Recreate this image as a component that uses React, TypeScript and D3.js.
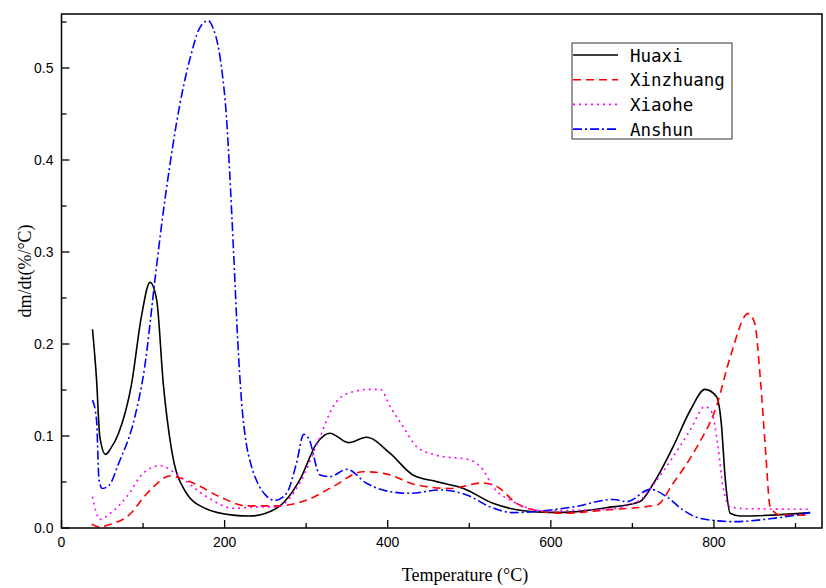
import React from "react";
import * as d3 from "d3";

const seriesNames = ["Huaxi", "Xinzhuang", "Xiaohe", "Anshun"];
const seriesColors = ["#000000", "#ff0000", "#ff00ff", "#0000ff"];
const seriesDash = ["", "8,5", "2,4", "9,3,2,3"];

const huaxiT = [38, 43, 47, 54, 60, 70, 86, 98, 108.5, 116.7, 124.8, 135, 151, 176, 210, 231, 264, 292, 313, 329, 352, 374, 403, 431, 460, 493, 529, 566, 599, 615, 668, 709, 726, 750, 771, 789, 803, 809, 814, 820, 832, 918];
const huaxiV = [0.216, 0.161, 0.099, 0.080, 0.086, 0.103, 0.157, 0.230, 0.267, 0.248, 0.157, 0.085, 0.041, 0.0214, 0.014, 0.013, 0.0217, 0.052, 0.092, 0.103, 0.0928, 0.0986, 0.081, 0.0576, 0.0504, 0.043, 0.0268, 0.0188, 0.017, 0.017, 0.022, 0.0286, 0.0486, 0.0884, 0.128, 0.1507, 0.143, 0.114, 0.052, 0.016, 0.013, 0.0167];

const xinT = [37, 47, 60, 80, 108.5, 133, 162, 194, 227, 264, 301, 333, 370, 395, 436, 476, 517, 534, 558, 591, 615, 668, 730, 750, 779, 803, 820, 842, 850, 857, 863, 869, 881, 918];
const xinV = [0.004, 0.001, 0.004, 0.012, 0.041, 0.0565, 0.0486, 0.034, 0.024, 0.024, 0.0304, 0.045, 0.0612, 0.0594, 0.0467, 0.043, 0.049, 0.045, 0.0268, 0.0177, 0.016, 0.0196, 0.025, 0.0486, 0.088, 0.132, 0.186, 0.233, 0.2225, 0.161, 0.088, 0.023, 0.014, 0.014];

const xiaoT = [38, 47, 60, 80, 100, 121, 145, 178, 211, 243, 264, 292, 317, 333, 350, 378, 391, 403, 419, 436, 460, 501, 517, 529, 554, 591, 668, 709, 722, 750, 771, 789, 797, 805, 811, 820, 840, 918];
const xiaoV = [0.034, 0.0094, 0.016, 0.034, 0.0594, 0.0677, 0.0558, 0.034, 0.0214, 0.023, 0.023, 0.0486, 0.0993, 0.132, 0.146, 0.1507, 0.1507, 0.132, 0.110, 0.088, 0.079, 0.074, 0.063, 0.045, 0.0286, 0.0188, 0.0203, 0.030, 0.043, 0.0775, 0.1065, 0.132, 0.1265, 0.088, 0.045, 0.023, 0.021, 0.0203];

const anT = [38, 43, 46, 50, 58, 70, 90, 102, 115, 125, 133, 141, 150, 159, 168, 174, 180, 186, 192, 197, 202, 206, 211, 216, 221, 226, 232, 240, 250, 262, 276, 288, 297, 303, 317, 329, 350, 374, 403, 427, 464, 497, 525, 554, 591, 628, 677, 693, 722, 742, 762, 783, 824, 873, 918];
const anV = [0.139, 0.117, 0.052, 0.043, 0.046, 0.070, 0.121, 0.175, 0.273, 0.345, 0.395, 0.44, 0.482, 0.515, 0.541, 0.549, 0.5514, 0.543, 0.524, 0.495, 0.45, 0.39, 0.30, 0.205, 0.135, 0.095, 0.07, 0.05, 0.036, 0.030, 0.0377, 0.070, 0.1018, 0.0975, 0.0576, 0.0558, 0.0638, 0.0486, 0.0395, 0.0377, 0.0413, 0.0359, 0.0232, 0.0167, 0.0188, 0.023, 0.031, 0.0286, 0.042, 0.034, 0.0196, 0.0105, 0.0069, 0.0105, 0.0167];

const seriesT = [huaxiT, xinT, xiaoT, anT];
const seriesV = [huaxiV, xinV, xiaoV, anV];

const xMajor = [0, 200, 400, 600, 800];
const xMinor = [100, 300, 500, 700, 900];
const yMajor = [0, 0.1, 0.2, 0.3, 0.4, 0.5];
const yMinor = [0.05, 0.15, 0.25, 0.35, 0.45, 0.55];

const W = 826;
const H = 588;
const L = 61.5;
const R = 822;
const T = 14;
const B = 528;

export default function App() {
  const x = d3.scaleLinear().domain([0, 932.5]).range([L, R]);
  const y = d3.scaleLinear().domain([0, 0.5587]).range([B, T]);
  const line = d3
    .line<[number, number]>()
    .x((d) => x(d[0]))
    .y((d) => y(d[1]))
    .curve(d3.curveMonotoneX);

  return (
    <svg width={W} height={H} style={{ position: "absolute", left: 0, top: 0, background: "#fff" }}>
      <rect x={0} y={0} width={W} height={H} fill="#fff" />
      <defs>
        <clipPath id="plot">
          <rect x={L} y={T} width={R - L} height={B - T} />
        </clipPath>
      </defs>
      <g clipPath="url(#plot)">
        {seriesNames.map((n, i) => (
          <path
            key={n}
            d={line(seriesT[i].map((t, j) => [t, seriesV[i][j]] as [number, number])) || ""}
            fill="none"
            stroke={seriesColors[i]}
            strokeWidth={1.6}
            strokeDasharray={seriesDash[i] || undefined}
            strokeLinejoin="round"
          />
        ))}
      </g>
      <rect x={L} y={T} width={R - L} height={B - T} fill="none" stroke="#000" strokeWidth={1.5} />
      {xMajor.map((v) => (
        <g key={"xM" + v}>
          <line x1={x(v)} x2={x(v)} y1={B} y2={B - 8} stroke="#000" strokeWidth={1.3} />
          <text x={x(v)} y={B + 19} textAnchor="middle" fontFamily="Liberation Sans, Arial, sans-serif" fontSize={14} fill="#000">
            {v}
          </text>
        </g>
      ))}
      {xMinor.map((v) => (
        <line key={"xm" + v} x1={x(v)} x2={x(v)} y1={B} y2={B - 5} stroke="#000" strokeWidth={1.3} />
      ))}
      {yMajor.map((v) => (
        <g key={"yM" + v}>
          <line x1={L} x2={L + 8} y1={y(v)} y2={y(v)} stroke="#000" strokeWidth={1.3} />
          <text x={L - 8} y={y(v) + 5} textAnchor="end" fontFamily="Liberation Sans, Arial, sans-serif" fontSize={14} fill="#000">
            {v.toFixed(1)}
          </text>
        </g>
      ))}
      {yMinor.map((v) => (
        <line key={"ym" + v} x1={L} x2={L + 5} y1={y(v)} y2={y(v)} stroke="#000" strokeWidth={1.3} />
      ))}
      <text x={465} y={581} textAnchor="middle" fontFamily="Liberation Serif, Times New Roman, serif" fontSize={18} fill="#000">
        Temperature (°C)
      </text>
      <text
        transform={`translate(31, ${271}) rotate(-90)`}
        textAnchor="middle"
        fontFamily="Liberation Serif, Times New Roman, serif"
        fontSize={18}
        fill="#000"
      >
        dm/dt(%/°C)
      </text>
      <rect x={572} y={43} width={160} height={96} fill="#fff" stroke="#333" strokeWidth={1} />
      {seriesNames.map((n, i) => {
        const yy = 55 + i * 24.7;
        return (
          <g key={"lg" + n}>
            <line x1={573} x2={618} y1={yy} y2={yy} stroke={seriesColors[i]} strokeWidth={1.6} strokeDasharray={seriesDash[i] || undefined} />
            <text x={630} y={yy + 6.5} fontFamily="DejaVu Sans Mono, monospace" fontSize={17.5} fill="#000">
              {n}
            </text>
          </g>
        );
      })}
    </svg>
  );
}
